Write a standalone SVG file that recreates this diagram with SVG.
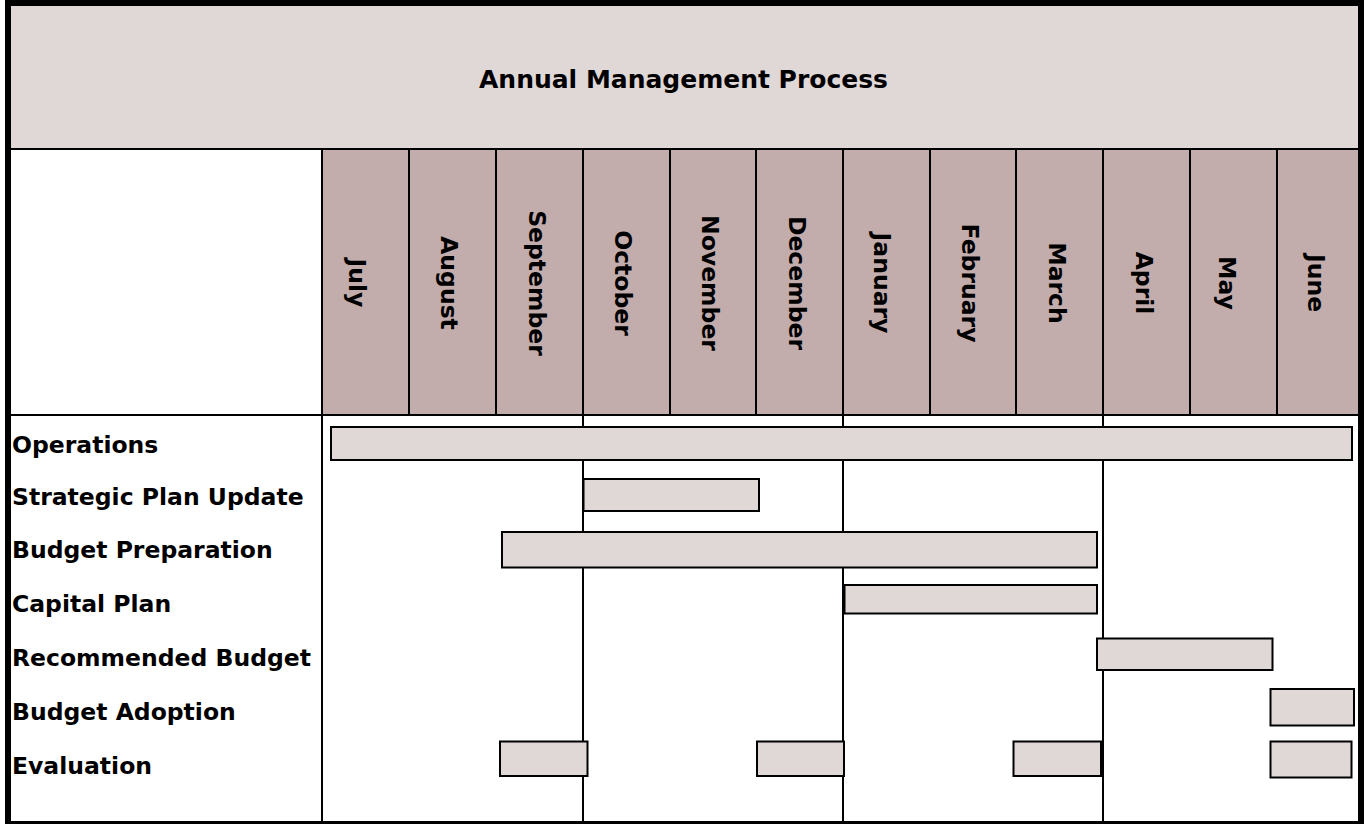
<svg xmlns="http://www.w3.org/2000/svg" width="1364" height="824" viewBox="0 0 1364 824">
<style>
text{font-family:"DejaVu Sans","Verdana","Liberation Sans",sans-serif;font-weight:bold;fill:#000}
.lbl{font-size:23.5px}
.mon{font-size:23.5px;text-anchor:middle}
.ttl{font-size:25px;text-anchor:middle}
.bar{fill:#E0D7D7;stroke:#000;stroke-width:2}
.ln{stroke:#000;stroke-width:2;fill:none}
.hdr{fill:#C2ADAC}
</style>
<rect x="0" y="0" width="1364" height="824" fill="#fff"/>
<g id="title">
<rect x="10" y="6" width="1348" height="143" fill="#E0D7D7"/>
<text class="ttl" x="683.5" y="88">Annual Management Process</text>
</g>
<g id="month-header">
<rect class="hdr" x="322" y="149" width="1036" height="266"/>
<text class="mon" transform="translate(349.4,283) rotate(90)">July</text>
<text class="mon" transform="translate(441.4,283) rotate(90)">August</text>
<text class="mon" transform="translate(528.9,283) rotate(90)">September</text>
<text class="mon" transform="translate(615.4,283) rotate(90)">October</text>
<text class="mon" transform="translate(702.4,283) rotate(90)">November</text>
<text class="mon" transform="translate(789.4,283) rotate(90)">December</text>
<text class="mon" transform="translate(874.4,283) rotate(90)">January</text>
<text class="mon" transform="translate(962.4,283) rotate(90)">February</text>
<text class="mon" transform="translate(1049.4,283) rotate(90)">March</text>
<text class="mon" transform="translate(1135.9,283) rotate(90)">April</text>
<text class="mon" transform="translate(1218.9,283) rotate(90)">May</text>
<text class="mon" transform="translate(1308.4,283) rotate(90)">June</text>
</g>
<g id="grid">
<line class="ln" x1="10" y1="149" x2="1358" y2="149"/>
<line class="ln" x1="10" y1="415" x2="1358" y2="415"/>
<line class="ln" x1="322" y1="149" x2="322" y2="821"/>
<line class="ln" x1="409" y1="149" x2="409" y2="415"/>
<line class="ln" x1="496" y1="149" x2="496" y2="415"/>
<line class="ln" x1="583" y1="149" x2="583" y2="821"/>
<line class="ln" x1="670" y1="149" x2="670" y2="415"/>
<line class="ln" x1="756" y1="149" x2="756" y2="415"/>
<line class="ln" x1="843" y1="149" x2="843" y2="821"/>
<line class="ln" x1="930" y1="149" x2="930" y2="415"/>
<line class="ln" x1="1016" y1="149" x2="1016" y2="415"/>
<line class="ln" x1="1103" y1="149" x2="1103" y2="821"/>
<line class="ln" x1="1190" y1="149" x2="1190" y2="415"/>
<line class="ln" x1="1277" y1="149" x2="1277" y2="415"/>
</g>
<g id="row-operations">
<text class="lbl" x="12" y="452.5">Operations</text>
<rect class="bar" x="331" y="427" width="1021" height="33"/>
</g>
<g id="row-strategic-plan-update">
<text class="lbl" x="12" y="505">Strategic Plan Update</text>
<rect class="bar" x="583.5" y="479" width="175.5" height="32"/>
</g>
<g id="row-budget-preparation">
<text class="lbl" x="12" y="557.5">Budget Preparation</text>
<rect class="bar" x="502" y="532" width="595" height="35.5"/>
</g>
<g id="row-capital-plan">
<text class="lbl" x="12" y="612">Capital Plan</text>
<rect class="bar" x="844.5" y="585" width="252.5" height="28.5"/>
</g>
<g id="row-recommended-budget">
<text class="lbl" x="12" y="666">Recommended Budget</text>
<rect class="bar" x="1097" y="638.5" width="175.5" height="31.5"/>
</g>
<g id="row-budget-adoption">
<text class="lbl" x="12" y="720">Budget Adoption</text>
<rect class="bar" x="1270.5" y="689" width="83.5" height="36.5"/>
</g>
<g id="row-evaluation">
<text class="lbl" x="12" y="774">Evaluation</text>
<rect class="bar" x="500" y="741.5" width="87.5" height="34.5"/>
<rect class="bar" x="757" y="741.5" width="87" height="34.5"/>
<rect class="bar" x="1013.5" y="741.5" width="87.5" height="34.5"/>
<rect class="bar" x="1270.5" y="741.5" width="81" height="36"/>
</g>
<rect id="frame" x="8" y="3" width="1353" height="821" fill="none" stroke="#000" stroke-width="6"/>
</svg>
